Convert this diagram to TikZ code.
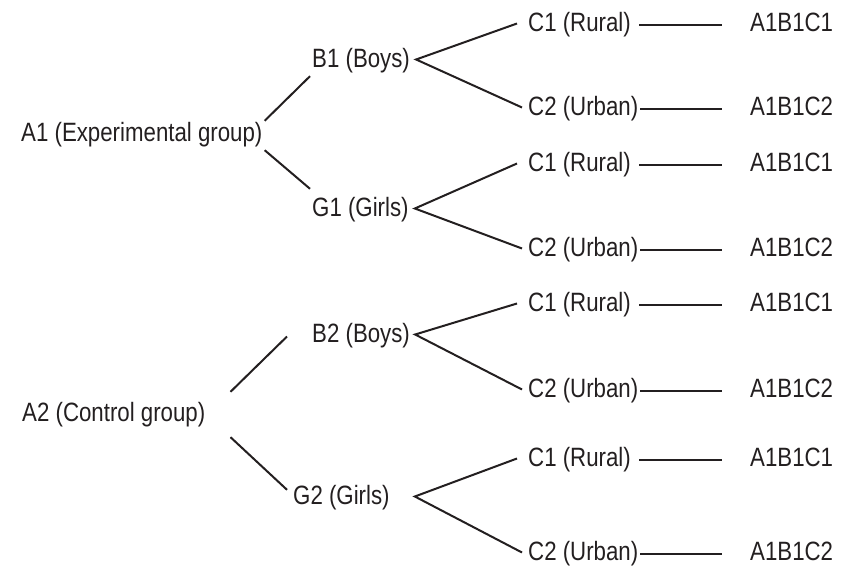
\documentclass[tikz,border=0pt]{standalone}
\usepackage{fontspec}
\setmainfont[FakeStretch=0.84]{Liberation Sans}
\usetikzlibrary{calc}
\definecolor{ink}{HTML}{231F20}
\tikzset{lbl/.style={inner sep=2pt, text height=19pt, text depth=6pt, anchor=base west},
  br/.style={line width=2pt}}

\begin{document}
\begin{tikzpicture}[x=1pt, y=1pt, font=\fontsize{26.5}{30}\selectfont, color=ink]
  \useasboundingbox (0,0) rectangle (852,568);
  \node[lbl] (a1) at (19,426) {A1 (Experimental group)};
  \node[lbl] (b1) at (310,500) {B1 (Boys)};
  \node[lbl] (g1) at (310,351) {G1 (Girls)};
  \node[lbl] (a2) at (20,146) {A2 (Control group)};
  \node[lbl] (b2) at (310,225) {B2 (Boys)};
  \node[lbl] (g2) at (291,63) {G2 (Girls)};
  \foreach \i/\y/\t/\r in {1/536/C1 (Rural)/A1B1C1, 2/452/C2 (Urban)/A1B1C2,
      3/396/C1 (Rural)/A1B1C1, 4/311/C2 (Urban)/A1B1C2,
      5/256/C1 (Rural)/A1B1C1, 6/170/C2 (Urban)/A1B1C2,
      7/101/C1 (Rural)/A1B1C1, 8/7/C2 (Urban)/A1B1C2}{
    \node[lbl] (c\i) at (526,\y) {\t};
    \node[lbl] (r\i) at (748,\y) {\r};}
  % first level
  \draw[br] (a1.north east) -- (b1.south west);
  \draw[br] (a1.south east) -- ($(g1.north west)+(0,7)$);
  \draw[br] ($(a2.north east)+(23,9)$) -- ($(b2.west)+(-23,0)$);
  \draw[br] ($(a2.south east)+(23,-7)$) -- ($(g2.north west)+(-4,-6)$);
  % forks
  \foreach \p/\u/\l/\dx in {b1/1/2/4, g1/3/4/4, b2/5/6/3, g2/7/8/23}
    \draw[br] ($(c\u.west)+(-9,2)$) -- ($(\p.east)+(\dx,2)$) -- ($(c\l.west)+(-4,2)$);
  % rules
  \foreach \i/\g in {1/6, 2/0, 3/6, 4/0, 5/6, 6/0, 7/6, 8/0}
    \draw[br] ($(c\i.east)+(\g,0)$) -- ($(r\i.west)+(-26,0)$);
\end{tikzpicture}
\end{document}
